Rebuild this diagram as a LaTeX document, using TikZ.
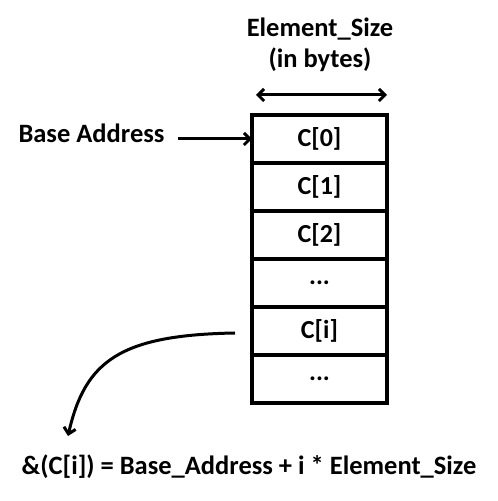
\documentclass[tikz,border=0pt]{standalone}
\usepackage{fontspec}
\setmainfont{Carlito}
\usetikzlibrary{positioning,calc,arrows.meta}

\begin{document}
\begin{tikzpicture}[
    x=1pt, y=1pt,
    node distance=0pt,
    cell/.style={rectangle, draw, line width=3.5pt, minimum width=135pt, minimum height=48pt, outer sep=0pt, font=\fontsize{26}{30}\bfseries},
    lbl/.style={font=\fontsize{26.5}{31}\bfseries, align=center, inner sep=0pt},
    arr/.style={-{Straight Barb[length=6pt,width=12pt]}, line width=3pt}
]
    \useasboundingbox (0,0) rectangle (498,501);

    % Array cells
    \node[cell] (c0) at (319.5,362) {C[0]};
    \node[cell, below=of c0] (c1) {C[1]};
    \node[cell, below=of c1] (c2) {C[2]};
    \node[cell, below=of c2] (c3) {...};
    \node[cell, below=of c3] (ci) {C[i]};
    \node[cell, below=of ci] (c5) {...};

    % Labels
    \node[lbl] (size) at (320,456) {Element\_Size\\(in bytes)};
    \node[lbl] (base) at (91.5,368) {Base Address};
    \node[lbl] (addr) at (249,34) {\&(C[i]) = Base\_Address + i * Element\_Size};

    % Helper points
    \coordinate (bstart) at ($(base.east |- c0)+(13,0)$);
    \coordinate (cstart) at ($(ci.west)+(-17,-2)$);
    \coordinate (cend) at (68,65);

    % Arrows
    \draw[arr] (bstart) -- (c0.west);
    \draw[arr, {Straight Barb[length=6pt,width=12pt]}-{Straight Barb[length=6pt,width=12pt]}]
        ([yshift=20pt, xshift=4pt]c0.north west) -- ([yshift=20pt]c0.north east);
    \draw[arr] (cstart) .. controls (120,166) and (85,140) .. (cend);
\end{tikzpicture}
\end{document}
